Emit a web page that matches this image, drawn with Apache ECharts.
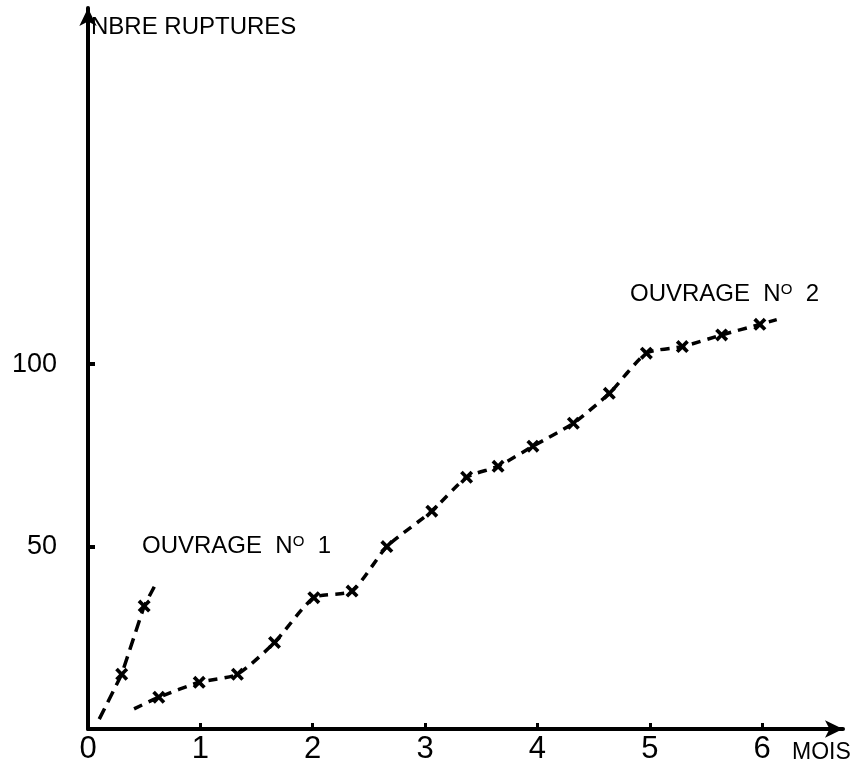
<!DOCTYPE html>
<html>
<head>
<meta charset="utf-8">
<script src="https://cdn.jsdelivr.net/npm/echarts@6/dist/echarts.min.js"></script>
<style>html,body{margin:0;padding:0;background:#fff}#c{width:855px;height:765px}</style>
</head>
<body>
<div id="c"></div>
<script>
// ---- data ----
const xTicks = [0, 1, 2, 3, 4, 5, 6];
const yTicks = [50, 100];
const ouv1X = [0.10, 0.30, 0.50, 0.59];
const ouv1Y = [2.7, 15, 33.7, 39];
const ouv2X = [0.41, 0.63, 0.99, 1.33, 1.66, 2.01, 2.35, 2.66, 3.06, 3.37, 3.65, 3.96, 4.32, 4.64, 4.97, 5.29, 5.64, 5.98, 6.13];
const ouv2Y = [5.5, 8.7, 12.8, 15, 23.7, 36, 37.8, 50, 59.7, 69, 72, 77.5, 83.8, 92, 103, 104.8, 108, 110.9, 112.2];
const yName = 'NBRE RUPTURES';
const xName = 'MOIS';
const label1 = ['OUVRAGE  N', 'O', '  1'];
const label2 = ['OUVRAGE  N', 'O', '  2'];

const FONT = '"Liberation Sans", sans-serif';
const XMARK = 'path://M2,0 L5,3 L8,0 L10,2 L7,5 L10,8 L8,10 L5,7 L2,10 L0,8 L3,5 L0,2 Z';

function pts(xs, ys) {
  return xs.map((x, i) => ({
    value: [x, ys[i]],
    symbol: (i === 0 || i === xs.length - 1) ? 'none' : XMARK
  }));
}

const chart = echarts.init(document.getElementById('c'), null, {renderer: 'canvas'});
const richStyle = {
  a: {fontSize: 24, fontFamily: FONT, color: '#000'},
  s: {fontSize: 15, fontFamily: FONT, color: '#000', verticalAlign: 'top', lineHeight: 15, padding: [0, 0, 10, 0]}
};
chart.setOption({
  animation: false,
  backgroundColor: '#fff',
  grid: {left: 88, right: 12, top: 8, bottom: 35, containLabel: false},
  xAxis: {
    type: 'value', min: 0, max: 6.72, interval: 1,
    splitLine: {show: false},
    axisLine: {show: true, onZero: false, symbol: ['none', 'arrow'], symbolSize: [13, 18], lineStyle: {color: '#000', width: 4}},
    axisTick: {show: true, inside: true, length: 6, customValues: xTicks.slice(1), lineStyle: {color: '#000', width: 3}},
    axisLabel: {show: true, customValues: xTicks, margin: 5, fontSize: 31, fontFamily: FONT, color: '#000'}
  },
  yAxis: {
    type: 'value', min: 0, max: 197.6, interval: 50,
    splitLine: {show: false},
    axisLine: {show: true, onZero: false, symbol: ['none', 'arrow'], symbolSize: [13, 18], lineStyle: {color: '#000', width: 4}},
    axisTick: {show: true, inside: true, length: 7, customValues: yTicks, lineStyle: {color: '#000', width: 4}},
    axisLabel: {show: true, customValues: yTicks, margin: 31, fontSize: 27, fontFamily: FONT, color: '#000'}
  },
  series: [
    {
      name: 'OUVRAGE N° 1', type: 'line', data: pts(ouv1X, ouv1Y),
      symbolSize: 13, itemStyle: {color: '#000'},
      lineStyle: {color: '#000', width: 3.5, type: [12, 7]}
    },
    {
      name: 'OUVRAGE N° 2', type: 'line', data: pts(ouv2X, ouv2Y),
      symbolSize: 13, smooth: 0.2, itemStyle: {color: '#000'},
      lineStyle: {color: '#000', width: 3.5, type: [9, 7]}
    }
  ],
  graphic: [
    {type: 'text', left: 91, top: 15, style: {text: yName, fontSize: 24, fontFamily: FONT, fill: '#000'}},
    {type: 'text', left: 792, top: 741, style: {text: xName, fontSize: 23, fontFamily: FONT, fill: '#000'}},
    {type: 'text', left: 142, top: 534, style: {text: '{a|' + label1[0] + '}{s|' + label1[1] + '}{a|' + label1[2] + '}', rich: richStyle}},
    {type: 'text', left: 630, top: 282, style: {text: '{a|' + label2[0] + '}{s|' + label2[1] + '}{a|' + label2[2] + '}', rich: richStyle}}
  ]
});
</script>
</body>
</html>
